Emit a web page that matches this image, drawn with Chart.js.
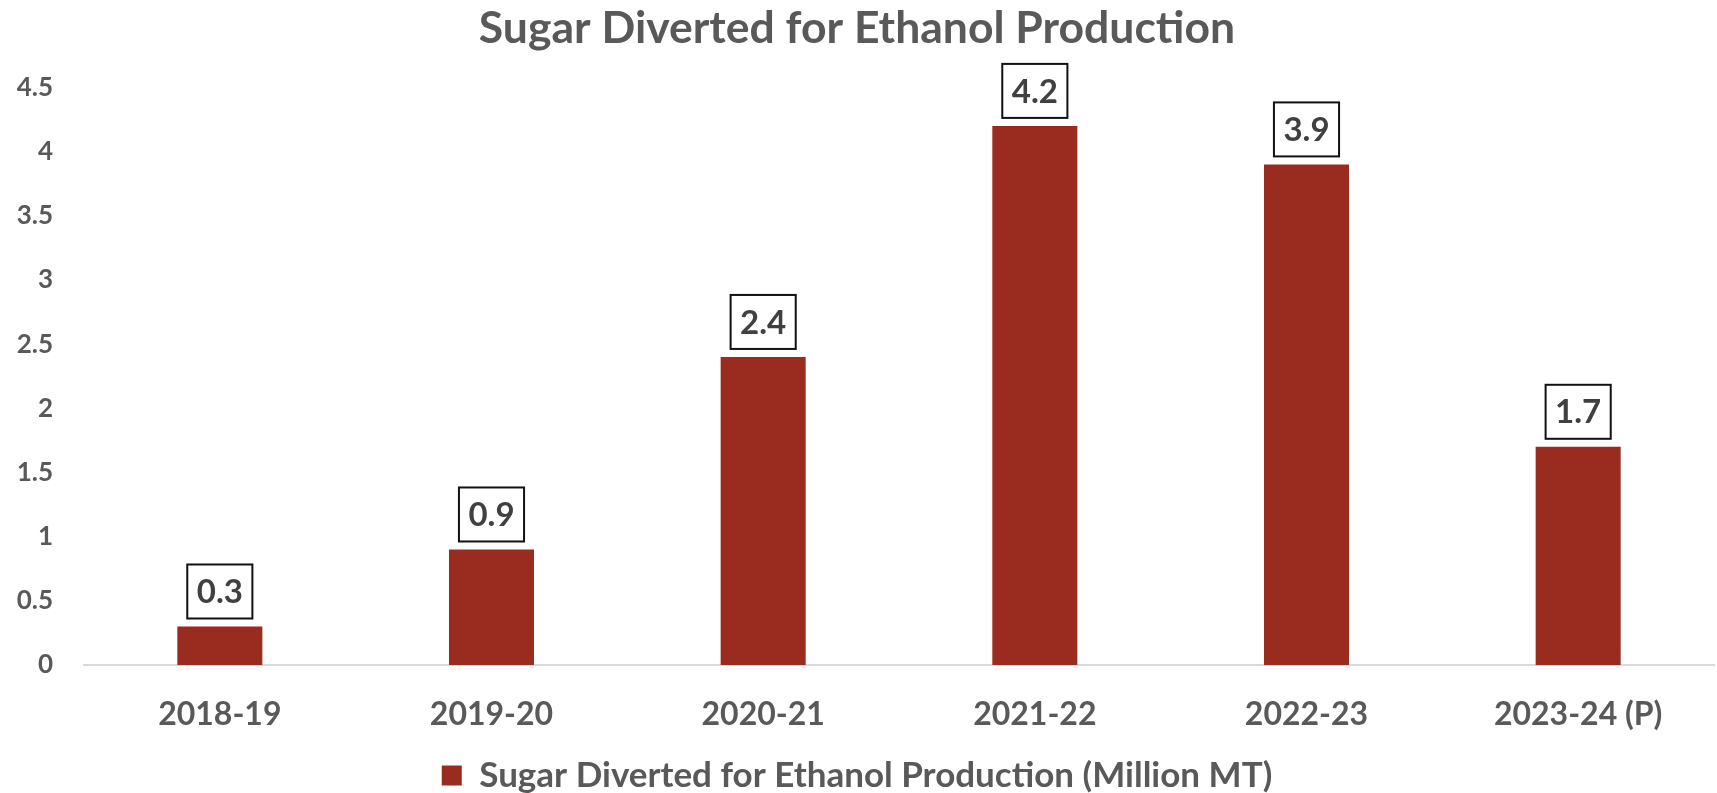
<!DOCTYPE html>
<html>
<head>
<meta charset="utf-8">
<script src="https://cdn.jsdelivr.net/npm/chart.js@4"></script>
<style>
  html, body { margin: 0; padding: 0; background: #ffffff; }
  #wrap { width: 1717px; height: 793px; }
</style>
</head>
<body>
<div id="wrap"><canvas id="sugarChart" width="1717" height="793"></canvas></div>
<script>
// Chart data
const seasons = ['2018-19', '2019-20', '2020-21', '2021-22', '2022-23', '2023-24 (P)'];
const sugarDiverted = [0.3, 0.9, 2.4, 4.2, 3.9, 1.7];
const seriesName = 'Sugar Diverted for Ethanol Production (Million MT)';
const chartTitle = 'Sugar Diverted for Ethanol Production';
const yMin = 0;
const yMax = 4.5;
const yStep = 0.5;

const axisGray = '#595959';
const barRed = '#992B1F';

Chart.defaults.font.family = 'Lato';
Chart.defaults.font.weight = 'bold';

// Boxed value labels above each bar
const boxedLabels = {
  id: 'boxedLabels',
  afterDatasetsDraw(chart) {
    const ctx = chart.ctx;
    const meta = chart.getDatasetMeta(0);
    ctx.save();
    ctx.font = 'bold 33px Lato';
    ctx.textAlign = 'center';
    ctx.textBaseline = 'middle';
    meta.data.forEach((bar, i) => {
      const text = chart.data.datasets[0].data[i].toFixed(1);
      const w = ctx.measureText(text).width + 19;
      const h = 54;
      const bottom = bar.y - 8;
      const left = bar.x - w / 2;
      ctx.fillStyle = '#ffffff';
      ctx.fillRect(left, bottom - h, w, h);
      ctx.lineWidth = 2;
      ctx.strokeStyle = '#111111';
      ctx.strokeRect(left, bottom - h, w, h);
      ctx.fillStyle = '#404040';
      ctx.fillText(text, bar.x, bottom - h / 2 + 1);
    });
    ctx.restore();
  },
};

function initChart() {
  const ctx = document.getElementById('sugarChart').getContext('2d');

  new Chart(ctx, {
    type: 'bar',
    data: {
      labels: seasons,
      datasets: [
        {
          label: seriesName,
          data: sugarDiverted,
          backgroundColor: barRed,
          borderWidth: 0,
          categoryPercentage: 1,
          barPercentage: 0.313,
        },
      ],
    },
    options: {
      responsive: false,
      animation: false,
      layout: {
        padding: { left: 0, right: 3, top: 0, bottom: -10 },
      },
      plugins: {
        title: {
          display: true,
          text: chartTitle,
          color: axisGray,
          font: { size: 44.5, weight: 'bold', family: 'Lato' },
          padding: { top: 2, bottom: 32 },
        },
        legend: {
          position: 'bottom',
          labels: {
            color: axisGray,
            boxWidth: 20,
            boxHeight: 20,
            padding: 3,
            font: { size: 35, weight: 'bold', family: 'Lato' },
          },
        },
        tooltip: { enabled: false },
      },
      scales: {
        x: {
          grid: { display: false, drawTicks: false },
          border: { display: true, color: '#D9D9D9', width: 2 },
          ticks: {
            color: axisGray,
            padding: 30,
            font: { size: 32, weight: 'bold', family: 'Lato' },
          },
          afterFit: (scale) => {
            scale.height = 90;
          },
        },
        y: {
          min: yMin,
          max: yMax,
          grid: { display: false, drawTicks: false },
          border: { display: false },
          ticks: {
            stepSize: yStep,
            color: axisGray,
            padding: 31,
            font: { size: 26, weight: 'bold', family: 'Lato' },
            callback: (value) => String(Math.round(value * 10) / 10),
          },
          afterFit: (scale) => {
            scale.width = 84;
          },
        },
      },
    },
    plugins: [boxedLabels],
  });
}

document.addEventListener('DOMContentLoaded', initChart);
</script>
</body>
</html>
